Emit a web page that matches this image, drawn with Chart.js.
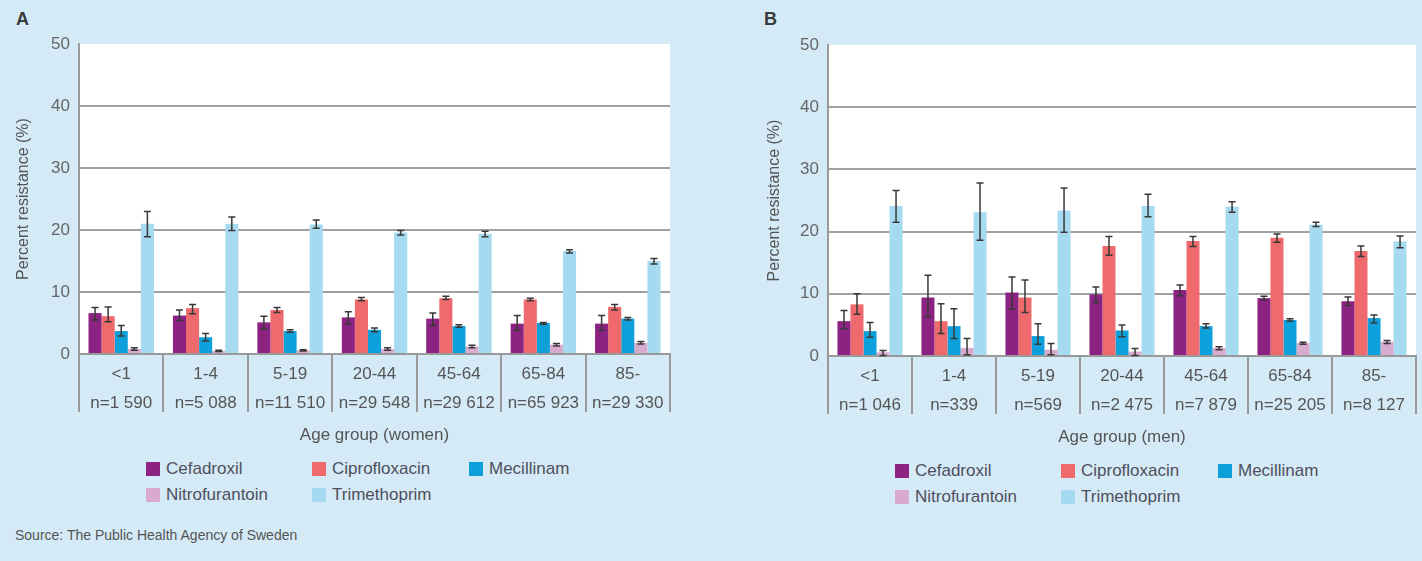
<!DOCTYPE html>
<html><head><meta charset="utf-8">
<script src="https://cdn.jsdelivr.net/npm/chart.js@4.4.1/dist/chart.umd.min.js"></script>
<style>
html,body{margin:0;padding:0;background:#d4eaf7;width:1422px;height:561px;overflow:hidden;font-family:"Liberation Sans",Arial,sans-serif;}
.abs{position:absolute;}
.letter{position:absolute;font-weight:bold;font-size:18px;line-height:18px;color:#3a3a3a;}
.leg{position:absolute;height:14px;display:flex;align-items:center;gap:6px;font-size:17px;color:#4f4f5c;white-space:nowrap;}
.leg .box{width:14px;height:14px;flex:none;}
.src{position:absolute;left:15px;top:527px;font-size:14px;line-height:16px;color:#555;}
canvas{position:absolute;top:0;}
</style>
</head>
<body>
<div class="letter" style="left:16px;top:10px">A</div>
<div class="letter" style="left:764px;top:10px">B</div>
<canvas id="chartA" width="700" height="450" style="left:0px"></canvas>
<canvas id="chartB" width="673" height="452" style="left:749px"></canvas>
<div id="legA"></div>
<div id="legB"></div>
<div class="src">Source: The Public Health Agency of Sweden</div>
<script>
// ---------- DATA ----------
const ageGroups = ['<1','1-4','5-19','20-44','45-64','65-84','85-'];
const womenCounts = ['n=1 590','n=5 088','n=11 510','n=29 548','n=29 612','n=65 923','n=29 330'];
const menCounts = ['n=1 046','n=339','n=569','n=2 475','n=7 879','n=25 205','n=8 127'];
const antibiotics = ['Cefadroxil','Ciprofloxacin','Mecillinam','Nitrofurantoin','Trimethoprim'];
const yTickValues = [0,10,20,30,40,50];

// Women (panel A), percent resistance and 95% CI [low, high]
const womenCefadroxil     = [6.6, 6.2, 5.1, 5.9, 5.7, 4.9, 4.9];
const womenCefadroxilCI   = [[5.5,7.5],[5.4,7.1],[4.0,6.1],[4.8,6.8],[4.6,6.6],[3.8,6.2],[3.8,6.2]];
const womenCiprofloxacin  = [6.1, 7.4, 7.1, 8.8, 9.0, 8.8, 7.6];
const womenCiprofloxacinCI= [[5.2,7.6],[6.5,8.0],[6.7,7.5],[8.6,9.1],[8.8,9.3],[8.6,9.0],[7.1,8.0]];
const womenMecillinam     = [3.7, 2.7, 3.7, 3.9, 4.5, 5.0, 5.7];
const womenMecillinamCI   = [[2.9,4.6],[2.1,3.3],[3.5,3.9],[3.6,4.2],[4.3,4.7],[4.8,5.1],[5.5,5.9]];
const womenNitrofurantoin = [0.8, 0.5, 0.6, 0.8, 1.2, 1.5, 1.8];
const womenNitrofurantoinCI=[[0.6,1.0],[0.4,0.6],[0.5,0.7],[0.6,1.0],[1.0,1.4],[1.3,1.7],[1.6,2.0]];
const womenTrimethoprim   = [21.0, 21.0, 20.9, 19.6, 19.4, 16.6, 15.0];
const womenTrimethoprimCI = [[18.9,23.0],[19.9,22.1],[20.3,21.6],[19.2,19.9],[18.9,19.8],[16.3,16.8],[14.5,15.4]];

// Men (panel B)
const menCefadroxil       = [5.6, 9.4, 10.2, 9.9, 10.6, 9.3, 8.8];
const menCefadroxilCI     = [[4.4,7.3],[6.3,13.0],[7.5,12.7],[8.6,11.1],[9.7,11.4],[9.0,9.6],[8.1,9.5]];
const menCiprofloxacin    = [8.3, 5.6, 9.4, 17.7, 18.5, 19.0, 16.9];
const menCiprofloxacinCI  = [[6.7,10.0],[3.6,8.4],[7.0,12.2],[16.2,19.2],[17.6,19.2],[18.3,19.6],[16.0,17.7]];
const menMecillinam       = [4.0, 4.8, 3.2, 4.1, 4.8, 5.8, 6.1];
const menMecillinamCI     = [[3.0,5.4],[2.8,7.6],[1.9,5.2],[3.1,5.0],[4.5,5.2],[5.6,6.0],[5.3,6.6]];
const menNitrofurantoin   = [0.6, 1.3, 1.0, 0.7, 1.3, 2.1, 2.3];
const menNitrofurantoinCI = [[0.1,0.9],[0.2,2.8],[0.2,2.0],[0.1,1.2],[1.0,1.5],[1.9,2.2],[2.0,2.5]];
const menTrimethoprim     = [24.1, 23.1, 23.4, 24.1, 24.0, 21.1, 18.4];
const menTrimethoprimCI   = [[21.5,26.6],[18.6,27.8],[19.9,27.0],[22.4,26.0],[23.1,24.8],[20.8,21.5],[17.4,19.3]];

// ---------- STYLE ----------
const seriesColors = ['#8c2382','#ee6a6c','#0ea0da','#d8aace','#a5daf0'];
const FONT = '"Liberation Sans", Arial, sans-serif';
const AXIS_GRAY = '#999999';

const errorBarPlugin = {
  id: 'errorBars',
  afterDatasetsDraw(chart) {
    const ctx = chart.ctx, ys = chart.scales.y;
    ctx.save();
    ctx.strokeStyle = '#383838';
    ctx.lineWidth = 1.5;
    chart.data.datasets.forEach((ds, i) => {
      const meta = chart.getDatasetMeta(i);
      meta.data.forEach((bar, j) => {
        const [lo, hi] = ds.ci[j];
        const y1 = ys.getPixelForValue(lo), y2 = ys.getPixelForValue(hi);
        const x = bar.x, c = 3.5;
        ctx.beginPath();
        ctx.moveTo(x, y1); ctx.lineTo(x, y2);
        ctx.moveTo(x - c, y1); ctx.lineTo(x + c, y1);
        ctx.moveTo(x - c, y2); ctx.lineTo(x + c, y2);
        ctx.stroke();
      });
    });
    ctx.restore();
  }
};
const whiteAreaPlugin = {
  id: 'whiteArea',
  beforeDraw(chart) {
    const {ctx, chartArea: a} = chart;
    ctx.save(); ctx.fillStyle = '#ffffff';
    ctx.fillRect(a.left, a.top, a.right - a.left, a.bottom - a.top);
    ctx.restore();
  }
};

function makeChart(id, counts, values, cis, xTitle, pad, yTitlePad) {
  const datasets = antibiotics.map((name, i) => ({
    label: name, data: values[i], ci: cis[i],
    backgroundColor: seriesColors[i], borderWidth: 0,
    categoryPercentage: 0.775, barPercentage: 1.0
  }));
  return new Chart(document.getElementById(id), {
    type: 'bar',
    data: { labels: ageGroups.map((g, i) => [g, counts[i]]), datasets },
    options: {
      responsive: false, animation: false,
      layout: { padding: pad },
      plugins: { legend: { display: false }, tooltip: { enabled: false } },
      scales: {
        x: {
          grid: { display: true, drawOnChartArea: false, drawTicks: true, tickLength: 58, color: AXIS_GRAY, lineWidth: 2, offset: true },
          border: { display: true, color: AXIS_GRAY, width: 2 },
          ticks: { autoSkip: false, maxRotation: 0, padding: -52, color: '#555', font: { family: FONT, size: 17, lineHeight: 29/17 } },
          title: { display: true, text: xTitle, color: '#555', font: { family: FONT, size: 17 }, padding: { top: 0, bottom: 4 } },
          afterFit(s) { s.height = 96; }
        },
        y: {
          min: 0, max: 50,
          afterBuildTicks(s) { s.ticks = yTickValues.map(v => ({ value: v })); },
          grid: { drawTicks: false, lineWidth: 2, color: c => (c.tick.value === 0 || c.tick.value === 50) ? 'rgba(0,0,0,0)' : '#a0a0a0' },
          border: { display: true, color: AXIS_GRAY, width: 2 },
          ticks: { padding: 9, color: '#666', font: { family: FONT, size: 17 } },
          title: { display: true, text: 'Percent resistance (%)', color: '#555', font: { family: FONT, size: 16 }, padding: { top: yTitlePad, bottom: 0 } },
          afterFit(s) { s.width = 79; }
        }
      }
    },
    plugins: [whiteAreaPlugin, errorBarPlugin]
  });
}

makeChart('chartA', womenCounts,
  [womenCefadroxil, womenCiprofloxacin, womenMecillinam, womenNitrofurantoin, womenTrimethoprim],
  [womenCefadroxilCI, womenCiprofloxacinCI, womenMecillinamCI, womenNitrofurantoinCI, womenTrimethoprimCI],
  'Age group (women)', { top: 44, right: 30, left: 0, bottom: 0 }, 14);
makeChart('chartB', menCounts,
  [menCefadroxil, menCiprofloxacin, menMecillinam, menNitrofurantoin, menTrimethoprim],
  [menCefadroxilCI, menCiprofloxacinCI, menMecillinamCI, menNitrofurantoinCI, menTrimethoprimCI],
  'Age group (men)', { top: 45, right: 6, left: 0, bottom: 0 }, 16);

// ---------- HTML legends ----------
function legend(hostId, x0, y0) {
  const colX = [0, 166, 323], rowY = [0, 26];
  const host = document.getElementById(hostId);
  antibiotics.forEach((name, i) => {
    const d = document.createElement('div');
    d.className = 'leg';
    d.style.left = (x0 + colX[i % 3]) + 'px';
    d.style.top = (y0 + rowY[Math.floor(i / 3)]) + 'px';
    d.innerHTML = '<span class="box" style="background:' + seriesColors[i] + '"></span><span>' + name + '</span>';
    host.appendChild(d);
  });
}
legend('legA', 146, 462);
legend('legB', 895, 464);
</script>
</body></html>
